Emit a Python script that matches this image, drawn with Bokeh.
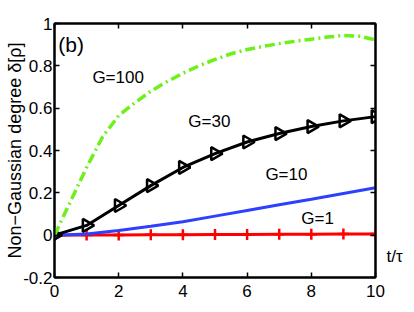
import math
from bokeh.plotting import figure
from bokeh.models import Range1d, FixedTicker, LinearAxis, Label
from bokeh.embed import file_html
from bokeh.resources import INLINE

# ---- data ----
t_marks = [0, 1, 2, 3, 4, 5, 6, 7, 8, 9, 10]
g1_vals = [0, 0.001, 0.001, 0.002, 0.002, 0.003, 0.003, 0.004, 0.004, 0.005, 0.005]
g10_vals = [0, 0.006, 0.022, 0.042, 0.063, 0.09, 0.117, 0.144, 0.17, 0.197, 0.224]
g30_vals = [0, 0.046, 0.14, 0.234, 0.32, 0.385, 0.44, 0.48, 0.513, 0.54, 0.56]
t_g100 = [0, 0.25, 0.5, 0.75, 1, 1.5, 2, 2.5, 3, 3.5, 4, 4.5, 5, 5.5, 6, 6.5, 7, 7.5, 8, 8.5, 9, 9.5, 10]
g100_vals = [0, 0.08, 0.16, 0.24, 0.32, 0.465, 0.565, 0.625, 0.68, 0.725, 0.765, 0.80, 0.83, 0.857, 0.877, 0.892, 0.905, 0.916, 0.926, 0.936, 0.943, 0.94, 0.923]

x_ticks = [0, 2, 4, 6, 8, 10]
y_ticks = [-0.2, 0, 0.2, 0.4, 0.6, 0.8, 1]
y_tick_labels = ["-0.2", "0", "0.2", "0.4", "0.6", "0.8", "1"]

curve_labels = ["G=100", "G=30", "G=10", "G=1"]
label_x = [1.18, 4.17, 6.57, 7.69]
label_y = [0.745, 0.537, 0.287, 0.079]

y_title = "Non\u2212Gaussian degree \u03b4[\u03c1]"
x_title = "t/\u03c4"
x_title_pos = -0.10

FONT = "Liberation Sans"

p = figure(width=406, height=304, output_backend="svg", toolbar_location=None,
           x_range=Range1d(0, 10), y_range=Range1d(-0.2, 1),
           min_border_left=54, min_border_right=31, min_border_top=23, min_border_bottom=27,
           x_axis_location=None, y_axis_location=None)
p.grid.visible = False
p.outline_line_color = "black"
p.outline_line_width = 2
p.background_fill_color = "white"
p.border_fill_color = "white"

def make_axis(ticks, show_labels, overrides=None):
    ax = LinearAxis(ticker=FixedTicker(ticks=ticks))
    ax.axis_line_color = "black"
    ax.axis_line_width = 2
    ax.major_tick_in = 5
    ax.major_tick_out = 0
    ax.major_tick_line_width = 1.5
    ax.minor_tick_line_color = None
    if show_labels:
        ax.major_label_text_font = FONT
        ax.major_label_text_font_size = "17px"
        ax.major_label_text_color = "black"
        if overrides:
            ax.major_label_overrides = overrides
    else:
        ax.major_label_text_font_size = "1px"
        ax.major_label_text_color = None
        ax.major_label_standoff = 0
    return ax

bx = make_axis(x_ticks, True)
bx.major_label_standoff = 7
p.add_layout(bx, "below")

ly = make_axis(y_ticks, True, {v: s for v, s in zip(y_ticks, y_tick_labels)})
ly.major_label_standoff = 2
ly.axis_label = y_title
ly.axis_label_text_font = FONT
ly.axis_label_text_font_size = "18px"
ly.axis_label_text_font_style = "normal"
ly.axis_label_text_color = "black"
ly.axis_label_standoff = -5
p.add_layout(ly, "left")

p.add_layout(make_axis(x_ticks, False), "above")
p.add_layout(make_axis(y_ticks, False), "right")

# axis holding the x title to the right of the frame
tx = LinearAxis(ticker=FixedTicker(ticks=[x_title_pos]), major_label_overrides={x_title_pos: x_title})
tx.axis_line_color = None
tx.major_tick_line_color = None
tx.minor_tick_line_color = None
tx.major_label_text_font = FONT
tx.major_label_text_font_size = "17px"
tx.major_label_text_color = "black"
tx.major_label_standoff = 5
p.add_layout(tx, "right")

# curves
p.line(t_marks, g1_vals, line_color="#ff0000", line_width=3)
p.scatter(t_marks, g1_vals, marker="cross", size=11, line_color="#ff0000", line_width=2.5)
p.line(t_marks, g10_vals, line_color="#2e40ff", line_width=3)
p.line(t_marks, g30_vals, line_color="black", line_width=3)
p.scatter(t_marks, g30_vals, marker="triangle", angle=-math.pi / 2, size=13,
          line_color="black", fill_color=None, line_width=2.5)
p.line(t_g100, g100_vals, line_color="#6ef01a", line_width=3.5, line_dash="10 4 2 4")

for txt, lx, lyv in zip(curve_labels, label_x, label_y):
    p.add_layout(Label(x=lx, y=lyv, text=txt, text_font=FONT, text_font_size="17px",
                       text_align="left", text_baseline="middle", text_color="black"))

p.add_layout(Label(x=0.12, y=0.90, text="(b)", text_font=FONT, text_font_size="21px",
                   text_align="left", text_baseline="middle", text_color="black"))

open("out.html", "w").write(file_html(p, INLINE))
